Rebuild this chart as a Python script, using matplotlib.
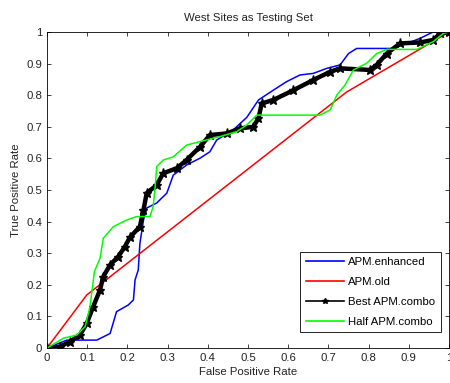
import matplotlib
matplotlib.use('Agg')
import matplotlib.pyplot as plt

# ROC points (false positive rate, true positive rate)
enh_fpr = [0, 0.05, 0.124, 0.157, 0.173, 0.202, 0.215, 0.219, 0.227, 0.231, 0.24, 0.248,
           0.273, 0.298, 0.314, 0.347, 0.381, 0.405, 0.422, 0.463, 0.497, 0.526, 0.563,
           0.596, 0.629, 0.662, 0.696, 0.729, 0.75, 0.77, 0.861, 0.895, 0.928, 0.96, 1.0]
enh_tpr = [0, 0.025, 0.025, 0.046, 0.115, 0.136, 0.152, 0.215, 0.247, 0.33, 0.405, 0.443,
           0.459, 0.49, 0.547, 0.579, 0.601, 0.621, 0.658, 0.69, 0.73, 0.785, 0.816,
           0.843, 0.864, 0.869, 0.885, 0.896, 0.932, 0.948, 0.948, 0.964, 0.98, 1.0, 1.0]

old_fpr = [0, 0.099, 0.745, 1.0]
old_tpr = [0, 0.168, 0.81, 1.0]

best_fpr = [0, 0.032, 0.057, 0.082, 0.099, 0.115, 0.132, 0.14, 0.157, 0.177, 0.194, 0.206,
            0.231, 0.24, 0.248, 0.273, 0.289, 0.323, 0.347, 0.381, 0.405, 0.447, 0.48,
            0.513, 0.526, 0.534, 0.563, 0.613, 0.662, 0.704, 0.729, 0.803, 0.82, 0.845,
            0.878, 0.928, 0.961, 0.978, 1.0]
best_tpr = [0, 0.004, 0.02, 0.041, 0.078, 0.131, 0.184, 0.226, 0.263, 0.289, 0.321, 0.35,
            0.384, 0.437, 0.49, 0.516, 0.553, 0.569, 0.595, 0.637, 0.674, 0.679, 0.695,
            0.70, 0.727, 0.774, 0.785, 0.816, 0.848, 0.874, 0.885, 0.880, 0.896, 0.932,
            0.964, 0.967, 0.975, 0.996, 1.0]

half_fpr = [0, 0.041, 0.074, 0.095, 0.107, 0.118, 0.132, 0.14, 0.165, 0.198, 0.223, 0.256,
            0.264, 0.269, 0.273, 0.289, 0.314, 0.347, 0.389, 0.43, 0.472, 0.497, 0.522,
            0.679, 0.704, 0.721, 0.741, 0.762, 0.795, 0.82, 0.845, 0.92, 0.961, 0.986, 1.0]
half_tpr = [0, 0.031, 0.041, 0.068, 0.131, 0.242, 0.284, 0.347, 0.384, 0.405, 0.416, 0.416,
            0.447, 0.51, 0.574, 0.595, 0.605, 0.642, 0.656, 0.669, 0.685, 0.706, 0.737,
            0.737, 0.753, 0.801, 0.832, 0.88, 0.901, 0.932, 0.945, 0.945, 0.97, 0.996, 1.0]

tick_labels = ['0', '0.1', '0.2', '0.3', '0.4', '0.5', '0.6', '0.7', '0.8', '0.9', '1']

plt.rcParams['font.family'] = ['Liberation Sans', 'DejaVu Sans']
fs = 8.2

fig = plt.figure(figsize=(4.5, 3.83), dpi=100)
ax = fig.add_axes([0.1044, 0.0914, 0.8936, 0.825])

ax.plot(enh_fpr, enh_tpr, color='#0000ff', linewidth=1.1, label='APM.enhanced')
ax.plot(old_fpr, old_tpr, color='#ff0000', linewidth=1.1, label='APM.old')
ax.plot(best_fpr, best_tpr, color='black', linewidth=3.2, marker='*', markersize=6.5,
        label='Best APM.combo')
ax.plot(half_fpr, half_tpr, color='#00ff00', linewidth=1.1, label='Half APM.combo')

ax.set_xlim(0, 1)
ax.set_ylim(0, 1)
ax.set_xticks([i / 10 for i in range(11)])
ax.set_yticks([i / 10 for i in range(11)])
ax.set_xticklabels(tick_labels)
ax.set_yticklabels(tick_labels)
ax.tick_params(direction='in', top=True, right=True, length=3, width=0.6,
               labelsize=fs, colors='#222222')
for s in ax.spines.values():
    s.set_linewidth(0.6)

ax.set_xlabel('False Positive Rate', fontsize=fs, labelpad=3, color='#222222')
ax.set_ylabel('True Positive Rate', fontsize=fs, labelpad=4, color='#222222')
ax.set_title('West Sites as Testing Set', fontsize=fs, pad=8, color='#222222')

leg = ax.legend(loc='lower right', bbox_to_anchor=(0.98, 0.05), borderaxespad=0,
                fontsize=fs, numpoints=1, fancybox=False, framealpha=1,
                edgecolor='black', handlelength=3.3, handletextpad=0.4,
                labelspacing=0.85, borderpad=0.5)
leg.get_frame().set_linewidth(0.6)
for h in leg.get_lines():
    h.set_linewidth(1.2)
    h.set_markersize(4)

fig.savefig('out.png', dpi=100)
